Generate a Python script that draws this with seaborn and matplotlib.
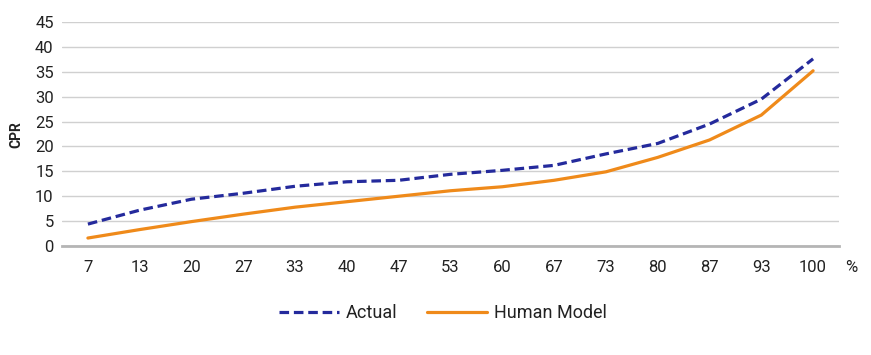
import matplotlib
matplotlib.use("Agg")
import matplotlib.pyplot as plt
import seaborn as sns
import pandas as pd

pct = ["7", "13", "20", "27", "33", "40", "47", "53", "60", "67", "73", "80", "87", "93", "100"]
actual = [4.4, 7.2, 9.4, 10.6, 12.0, 12.9, 13.2, 14.4, 15.2, 16.2, 18.5, 20.6, 24.5, 29.5, 37.6]
human_model = [1.6, 3.3, 4.9, 6.4, 7.8, 8.9, 10.0, 11.1, 11.9, 13.2, 14.9, 17.8, 21.3, 26.3, 35.2]

df = pd.DataFrame({
    "pct": pct * 2,
    "cpr": actual + human_model,
    "series": ["Actual"] * len(pct) + ["Human Model"] * len(pct),
})

sns.set_style("white")
plt.rcParams["font.family"] = ["Roboto", "DejaVu Sans"]

fig = plt.figure(figsize=(8.71, 3.55), dpi=100)
ax = fig.add_axes([62 / 871, 1 - 246 / 355, (839 - 62) / 871, (246 - 22) / 355])

sns.lineplot(data=df, x="pct", y="cpr", hue="series", style="series",
             palette={"Actual": "#242a9c", "Human Model": "#ef8a1a"},
             dashes={"Actual": (3, 1.5), "Human Model": ""},
             linewidth=2.3, ax=ax, legend=False, sort=False)

ax.set_xlim(-0.5, len(pct) - 0.5)
ax.set_ylim(0, 45)
ax.set_yticks(range(0, 50, 5))
ax.grid(axis="y", color="#d0d0d0", linewidth=1)
ax.set_axisbelow(True)
for s in ["top", "right", "left"]:
    ax.spines[s].set_visible(False)
ax.spines["bottom"].set_color("#b5b5b5")
ax.spines["bottom"].set_linewidth(2)
ax.tick_params(length=0, labelsize=12, colors="#222222")
ax.tick_params(axis="x", pad=10)
ax.tick_params(axis="y", pad=6)
ax.set_xlabel("")
ax.set_ylabel("CPR", fontsize=10, fontweight="bold", color="#222222")
ax.yaxis.set_label_coords(-0.05, 0.495)
fig.text(851 / 871, 1 - 267 / 355, "%", fontsize=12, color="#222222",
         ha="center", va="center")

handles = [
    plt.Line2D([], [], color="#242a9c", linewidth=2.3, dashes=(3, 1.5)),
    plt.Line2D([], [], color="#ef8a1a", linewidth=2.3),
]
fig.legend(handles, ["Actual", "Human Model"], loc="center",
           bbox_to_anchor=(443 / 871, 1 - 313 / 355), ncol=2, frameon=False,
           fontsize=13, handlelength=3.3, handletextpad=0.4, columnspacing=1.65,
           labelcolor="#222222")

fig.savefig("out.png", dpi=100)
